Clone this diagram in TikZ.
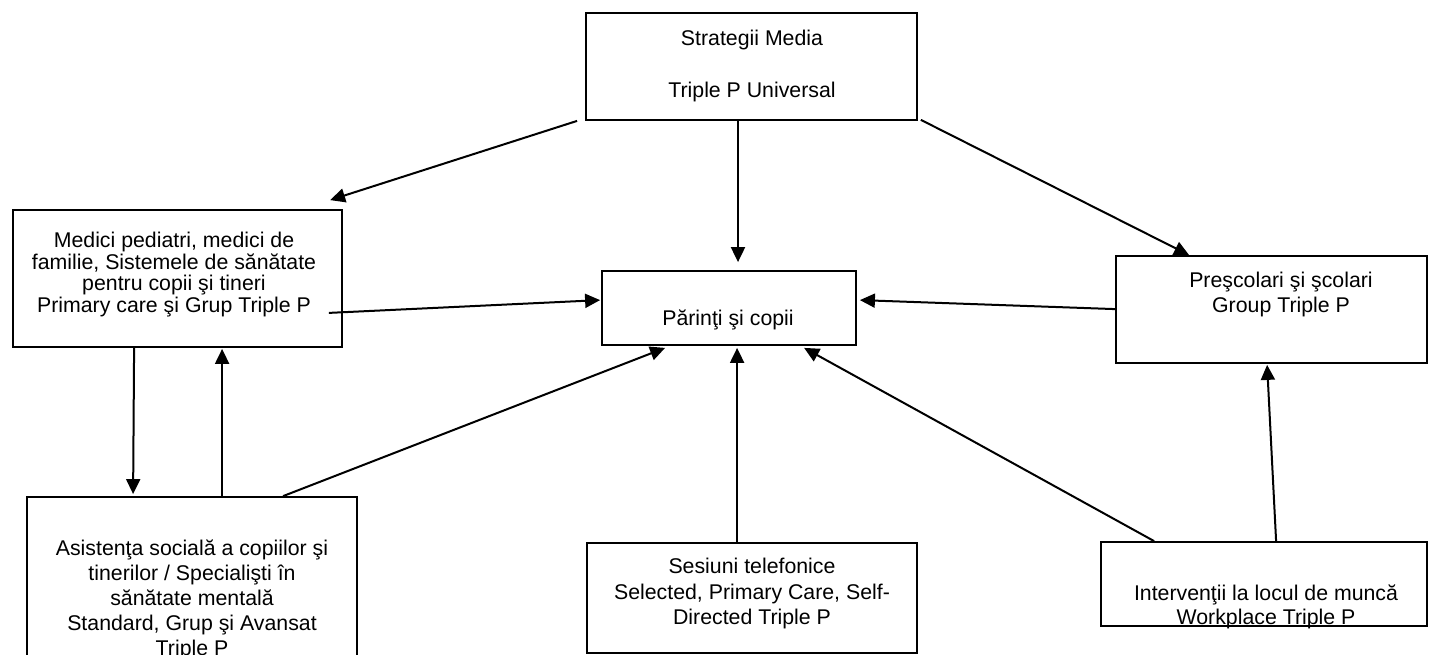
\documentclass[tikz,border=0pt]{standalone}
\usepackage{fontspec}
\setmainfont{Liberation Sans}
\usetikzlibrary{arrows.meta}
\begin{document}
\begin{tikzpicture}[x=1pt,y=-1pt,
  box/.style={draw, line width=1.8pt, inner sep=0pt, rectangle},
  txt/.style={font=\fontsize{21.3pt}{24.5pt}\selectfont, align=center, inner sep=0pt},
  arr/.style={line width=2pt, -{Triangle[length=15pt,width=14pt]}}]
\useasboundingbox (0,0) rectangle (1429,655);
\clip (0,0) rectangle (1429,655);
% boxes
\node[box, minimum width=331pt, minimum height=107pt] (top) at (751.5,66.5) {};
\node[box, minimum width=329pt, minimum height=137pt] (lb) at (177.5,278.5) {};
\node[box, minimum width=254pt, minimum height=74pt] (ctr) at (729,308) {};
\node[box, minimum width=311pt, minimum height=107pt] (rb) at (1271.5,309.5) {};
\node[box, minimum width=330pt, minimum height=203pt] (bl) at (192,598.5) {};
\node[box, minimum width=330pt, minimum height=110pt] (ses) at (752,598) {};
\node[box, minimum width=326pt, minimum height=84pt] (wp) at (1264,584) {};
% texts
\node[txt] (ttop) at (752,66) {Strategii Media\\[27.5pt]Triple P Universal};
\node[txt, font=\fontsize{21.3pt}{21.7pt}\selectfont] (tlb) at (174,274.5) {Medici pediatri, medici de\\familie, Sistemele de sănătate\\pentru copii şi tineri\\Primary care şi Grup Triple P};
\node[txt] (tctr) at (728,320) {Părinţi şi copii};
\node[txt] (trb) at (1281,294.5) {Preşcolari şi şcolari\\Group Triple P};
\node[txt, font=\fontsize{21.3pt}{25pt}\selectfont] (tbl) at (192,600) {Asistenţa socială a copiilor şi\\tinerilor / Specialişti în\\sănătate mentală\\Standard, Grup şi Avansat\\Triple P};
\node[txt, font=\fontsize{21.3pt}{25.5pt}\selectfont] (tses) at (752,593.5) {Sesiuni telefonice\\Selected, Primary Care, Self-\\Directed Triple P};
\node[txt, font=\fontsize{21.3pt}{24pt}\selectfont] (twp) at (1266,607) {Intervenţii la locul de muncă\\Workplace Triple P};
% connectors
\draw[arr] ([xshift=-8pt]top.south west) -- ([xshift=318pt,yshift=9pt]lb.north west);
\draw[arr] ([xshift=-13.5pt]top.south) -- ([xshift=9pt,yshift=8pt]ctr.north);
\draw[arr] ([xshift=3pt,yshift=1pt]top.south east) -- ([xshift=74pt]rb.north west);
\draw[arr] ([xshift=-14pt,yshift=35pt]lb.south east) -- ([xshift=-1pt,yshift=-30pt]ctr.north west);
\draw[arr] ([yshift=-54pt]rb.north west) -- ([xshift=3pt,yshift=-30pt]ctr.north east);
\draw[arr] ([xshift=122pt]lb.south west) -- ([xshift=107pt,yshift=2pt]bl.north west);
\draw[arr] ([xshift=196pt]bl.north west) -- ([xshift=210pt,yshift=-1pt]lb.south west);
\draw[arr] ([xshift=257pt]bl.north west) -- ([xshift=64pt,yshift=-2pt]ctr.south west);
\draw[arr] ([xshift=151pt]ses.north west) -- ([xshift=136pt,yshift=-2pt]ctr.south west);
\draw[arr] ([xshift=54pt]wp.north west) -- ([xshift=203pt,yshift=-2pt]ctr.south west);
\draw[arr] ([xshift=176pt]wp.north west) -- ([xshift=152pt,yshift=-1pt]rb.south west);
\end{tikzpicture}
\end{document}
